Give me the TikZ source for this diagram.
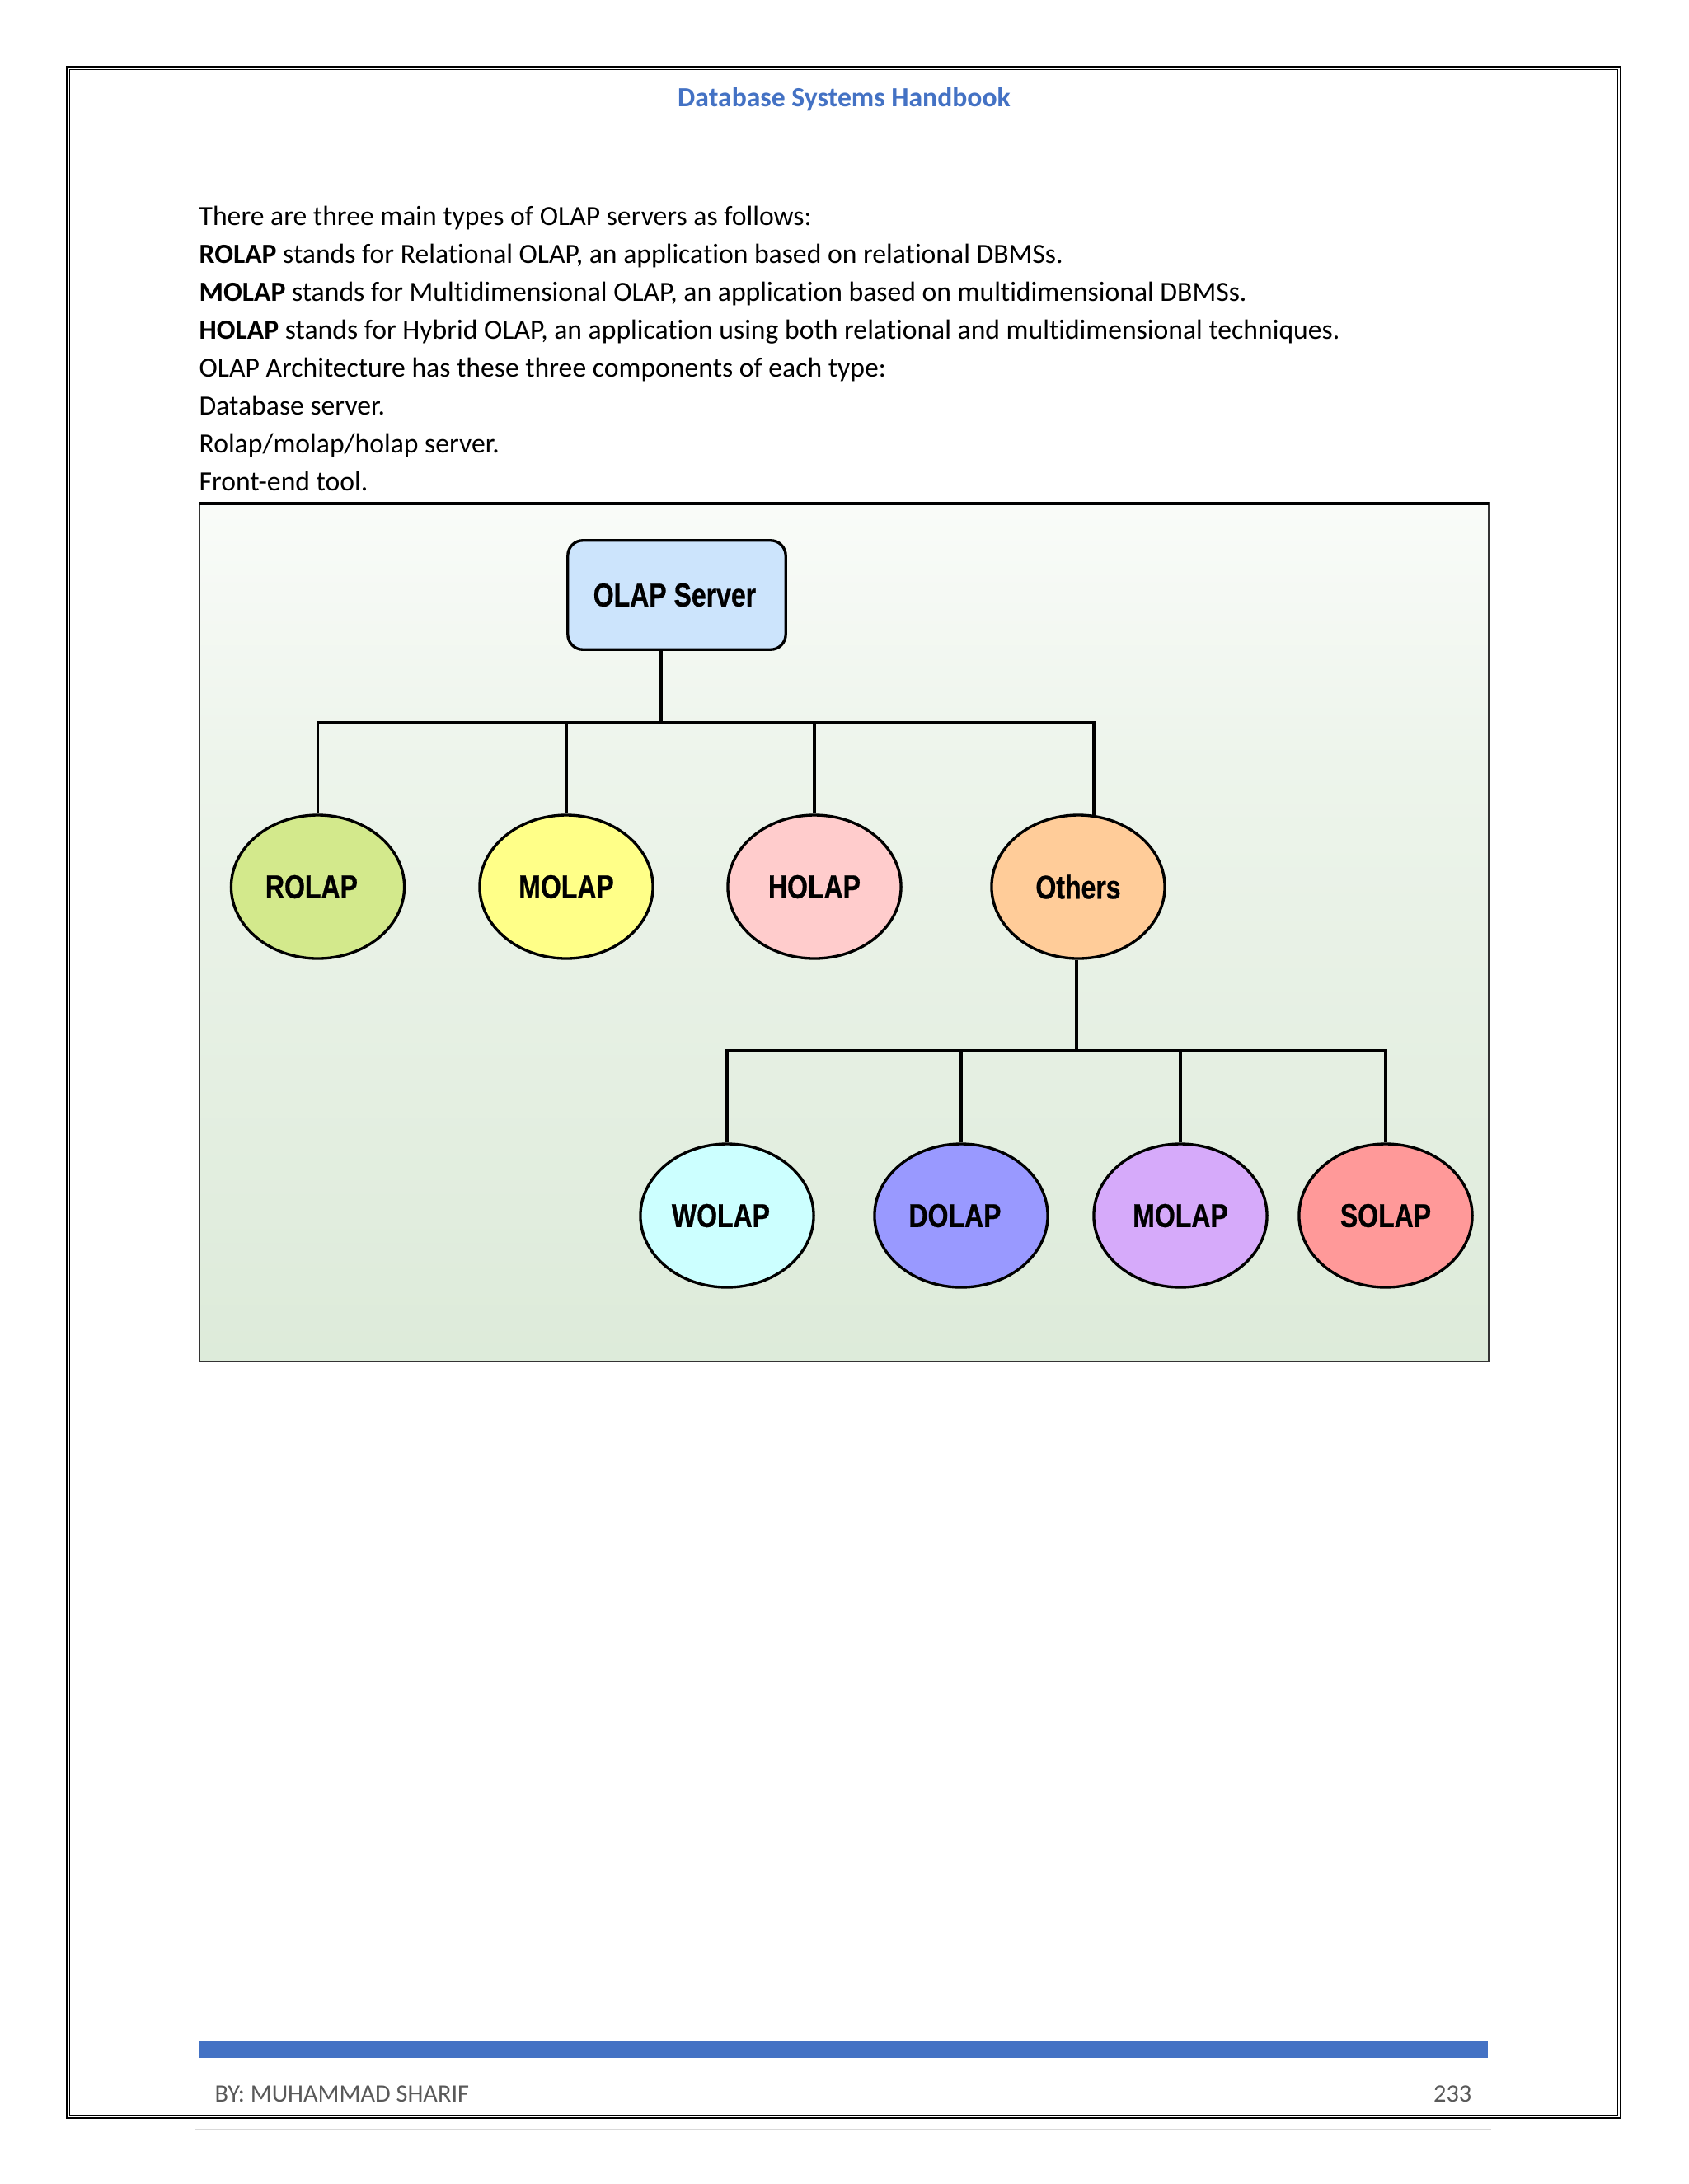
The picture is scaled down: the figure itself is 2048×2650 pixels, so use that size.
\documentclass[tikz,border=0pt]{standalone}
\usepackage{fontspec}
\setmainfont{Carlito}[Ligatures=NoCommon]
\newfontfamily\lab{Liberation Sans}[BoldFeatures={FakeStretch=0.8,FakeBold=0.6}]
\usetikzlibrary{shapes.geometric}
\definecolor{hdblue}{HTML}{4472C4}
\definecolor{bgG}{HTML}{D7E7D3}
\definecolor{cSrv}{HTML}{CCE4FC}
\definecolor{cRolap}{HTML}{D3E98C}
\definecolor{cMolap}{HTML}{FFFF88}
\definecolor{cHolap}{HTML}{FFCCCC}
\definecolor{cOthers}{HTML}{FFCC99}
\definecolor{cWolap}{HTML}{CCFFFF}
\definecolor{cDolap}{HTML}{9999FF}
\definecolor{cMolapB}{HTML}{D6AAFA}
\definecolor{cSolap}{HTML}{FF9999}
\definecolor{foot}{HTML}{595959}
\definecolor{frameC}{HTML}{333333}
\pgfdeclareverticalshading{olapbg}{100bp}{color(0bp)=(bgG); color(25bp)=(bgG!85!white); color(60bp)=(bgG!45!white); color(82bp)=(white); color(100bp)=(white)}
\tikzset{
  body/.style={anchor=base west, inner sep=0pt, font=\fontsize{10.1}{12}\selectfont},
  oval/.style={ellipse, draw=black, line width=1bp, inner sep=0pt, minimum width=62.8bp, minimum height=52bp, font=\lab\bfseries\fontsize{12}{14}\selectfont},
  srvbox/.style={rectangle, rounded corners=5.5bp, draw=black, line width=1bp, fill=cSrv, inner sep=0pt, minimum width=79bp, minimum height=39.6bp, font=\lab\bfseries\fontsize{12}{14}\selectfont},
  conn/.style={draw=black, line width=1bp}
}
\begin{document}
\begin{tikzpicture}[x=0.29883bp, y=-0.29883bp]
\useasboundingbox (0,0) rectangle (2048,2650);
\fill[white] (0,0) rectangle (2048,2650);
% page border
\draw[line width=0.7bp] (81,81) rectangle (1966,2570);
\draw[line width=0.4bp] (84.5,84.5) rectangle (1962.5,2566.5);
% header
\node[anchor=base, inner sep=0pt, font=\bfseries\fontsize{10.1}{12}\selectfont, text=hdblue] (hdr) at (1024,129) {Database Systems Handbook};
% body text
\node[body] (t1) at (241,273) {There are three main types of OLAP servers as follows:};
\node[body] (t2) at (241,319) {\textbf{ROLAP} stands for Relational OLAP, an application based on relational DBMSs.};
\node[body] (t3) at (241,365) {\textbf{MOLAP} stands for Multidimensional OLAP, an application based on multidimensional DBMSs.};
\node[body] (t4) at (241,411) {\textbf{HOLAP} stands for Hybrid OLAP, an application using both relational and multidimensional techniques.};
\node[body] (t5) at (241,457) {OLAP Architecture has these three components of each type:};
\node[body] (t6) at (241,503) {Database server.};
\node[body] (t7) at (241,549) {Rolap/molap/holap server.};
\node[body] (t8) at (241,595) {Front-end tool.};
% diagram frame
\shade[shading=olapbg] (242,610) rectangle (1806,1652);
\draw[frameC, line width=0.7bp] (242,610) rectangle (1806,1652);
\draw[black, line width=1.1bp] (242,611) -- (1806,611);
% nodes
\node[srvbox] (srv) at (821,722) {OLAP Server\kern1.5bp};
\node[oval, fill=cRolap] (rolap) at (385.5,1076) {ROLAP\kern4.5bp};
\node[oval, fill=cMolap] (molap) at (687,1076) {MOLAP};
\node[oval, fill=cHolap] (holap) at (988,1076) {HOLAP};
\node[oval, fill=cOthers] (others) at (1308,1076) {Others};
\node[oval, fill=cWolap] (wolap) at (882,1475) {WOLAP\kern4.5bp};
\node[oval, fill=cDolap] (dolap) at (1166,1475) {DOLAP\kern4.5bp};
\node[oval, fill=cMolapB] (molapb) at (1432,1475) {MOLAP};
\node[oval, fill=cSolap] (solap) at (1681,1475) {SOLAP};
% connectors level 1
\coordinate (b1) at (802,877);
\coordinate (o1) at (1327,877);
\draw[conn] (srv.south -| b1) -- (b1);
\draw[conn] (rolap.north) |- (b1) -- (o1) -- ([yshift=-1.4]o1 |- others.north);
\draw[conn] (molap.north) -- (molap.north |- b1);
\draw[conn] (holap.north) -- (holap.north |- b1);
% connectors level 2
\coordinate (b2) at (1306,1275);
\draw[conn] (others.south -| b2) -- (b2);
\draw[conn] (wolap.north) |- (b2) -| (solap.north);
\draw[conn] (dolap.north) -- (dolap.north |- b2);
\draw[conn] (molapb.north) -- (molapb.north |- b2);
% footer
\fill[hdblue] (241,2477) rectangle (1805,2497);
\node[anchor=base west, inner sep=0pt, text=foot, font=\fontsize{9.1}{11}\selectfont] (by) at (260,2550) {BY: MUHAMMAD SHARIF};
\node[anchor=base east, inner sep=0pt, text=foot, font=\fontsize{9.1}{11}\selectfont] (pg) at (1786,2550) {233};
\draw[black!15, line width=0.6bp] (236,2584) -- (1809,2584);
\end{tikzpicture}
\end{document}
